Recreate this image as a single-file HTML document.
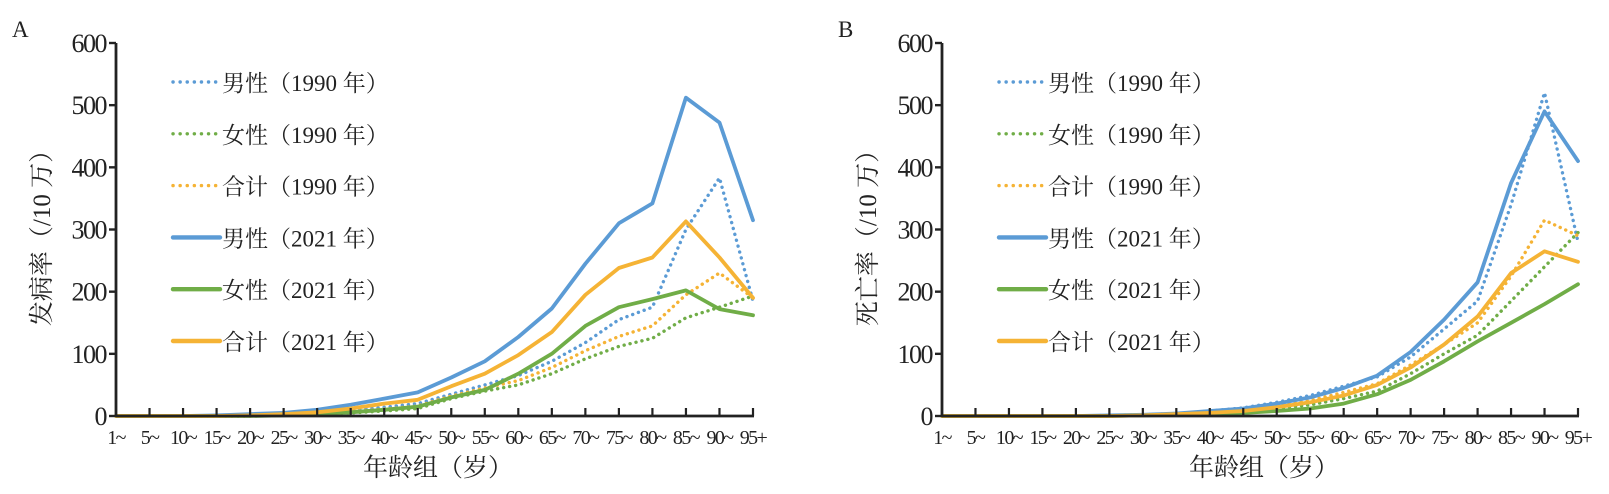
<!DOCTYPE html>
<html><head><meta charset="utf-8"><style>
body{margin:0;background:#fff}
svg text{font-family:"Liberation Serif","Noto Serif CJK SC","Noto Sans CJK SC",serif;fill:#222}
</style></head><body>
<svg id="c" width="1609" height="489" viewBox="0 0 1609 489" xmlns="http://www.w3.org/2000/svg"></svg>
<script>
const categories=["1~","5~","10~","15~","20~","25~","30~","35~","40~","45~","50~","55~","60~","65~","70~","75~","80~","85~","90~","95+"];
const yTicks=[0,100,200,300,400,500,600];
const seriesNames=["男性（1990 年）","女性（1990 年）","合计（1990 年）","男性（2021 年）","女性（2021 年）","合计（2021 年）"];
const incMale1990=[0,0,0,0,1,2,5,9,14,20,35,50,65,88,118,155,175,300,383,185];
const incFemale1990=[0,0,0,0,0,1,2,5,8,12,28,40,50,68,92,112,125,158,175,193];
const incTotal1990=[0,0,0,0,0,1,3,7,11,16,32,45,57,78,105,128,145,195,230,190];
const incMale2021=[0,0,0,1,3,5,10,18,28,38,62,88,127,173,245,310,342,512,472,315];
const incFemale2021=[0,0,0,0,0,1,3,6,10,15,30,42,68,100,145,175,188,202,172,162];
const incTotal2021=[0,0,0,0,1,3,6,12,20,26,48,68,98,135,195,238,255,313,255,190];
const morMale1990=[0,0,0,0,0,1,2,4,8,13,22,33,48,63,95,140,185,340,520,280];
const morFemale1990=[0,0,0,0,0,0,1,2,4,7,12,18,28,40,68,100,130,185,240,295];
const morTotal1990=[0,0,0,0,0,0,1,3,6,10,16,25,38,52,82,115,150,225,315,290];
const morMale2021=[0,0,0,0,0,1,2,4,8,12,20,30,45,65,103,155,215,375,490,410];
const morFemale2021=[0,0,0,0,0,0,1,2,3,5,8,12,20,35,58,88,120,150,180,212];
const morTotal2021=[0,0,0,0,0,0,1,3,5,8,14,22,33,50,78,115,160,230,265,248];

const NS="http://www.w3.org/2000/svg";
const svg=document.getElementById('c');
const colors=["#5b9bd5","#70ad47","#f5b335","#5b9bd5","#70ad47","#f5b335"];
function mk(tag,attrs,parent){const e=document.createElementNS(NS,tag);for(const k in attrs)e.setAttribute(k,attrs[k]);(parent||svg).appendChild(e);return e;}

function panel(letter,ox,x1,yTitle,data,key){
  const g=mk('g',{});
  
  
  const y0=416,y600=43;
  const xs=i=>ox+i*(x1-ox)/(categories.length-1);
  const ys=v=>y0-(v/600)*(y0-y600);
  const L=mk('text',{x:ox-104,y:37,'font-size':23},g);L.textContent=letter;
  
  
  data.forEach((arr,s)=>{
    const pts=arr.map((v,i)=>xs(i).toFixed(1)+','+ys(v).toFixed(1)).join(' ');
    const dotted=s<3;
    const p=mk('polyline',{points:pts,fill:'none',stroke:colors[s],'stroke-width':dotted?3.4:3.8,'stroke-linejoin':'round','stroke-linecap':'round','stroke-dasharray':dotted?'0.1 6':'none'},g);
    
    
  });
  const ya=mk('line',{x1:ox,y1:y600,x2:ox,y2:y0,stroke:'#222','stroke-width':2.8},g);
  
  
  const xa=mk('line',{x1:ox,y1:y0,x2:x1+1,y2:y0,stroke:'#222','stroke-width':2.8},g);
  
  
  yTicks.forEach(t=>{
    mk('line',{x1:ox-7,y1:ys(t),x2:ox,y2:ys(t),stroke:'#222','stroke-width':2.4},g);
    const tx=mk('text',{x:ox-10,y:ys(t)+9,'font-size':26,'text-anchor':'end','letter-spacing':'-1.5'},g);tx.textContent=t;
    
    
  });
  categories.forEach((c,i)=>{
    if(i>0)mk('line',{x1:xs(i),y1:y0-8,x2:xs(i),y2:y0,stroke:'#222','stroke-width':2.2},g);
    const tx=mk('text',{x:xs(i),y:444,'font-size':20,'text-anchor':'middle','letter-spacing':'-1.6'},g);tx.textContent=c;
    
    
  });
  const xt=mk('text',{x:ox+322,y:476,'font-size':25,'text-anchor':'middle'},g);xt.textContent='年龄组（岁）';
  
  
  const yt=mk('text',{x:0,y:0,'font-size':25,'text-anchor':'middle',transform:`translate(${ox-66},232) rotate(-90)`},g);yt.textContent=yTitle;
  
  
  seriesNames.forEach((n,s)=>{
    const y=82+s*51.8;
    const lg=mk('g',{},g);
    
    
    const dotted=s<3;
    mk('line',{x1:ox+57,y1:y,x2:ox+104,y2:y,stroke:colors[s],'stroke-width':dotted?3.4:4.4,'stroke-linecap':'round','stroke-dasharray':dotted?'0.1 7':'none'},lg);
    const t=mk('text',{x:ox+106,y:y+9,'font-size':23},lg);t.textContent=n;
  });
}
panel('A',116,753,'发病率（/10 万）',[incMale1990,incFemale1990,incTotal1990,incMale2021,incFemale2021,incTotal2021],'incidence');
panel('B',942,1578,'死亡率（/10 万）',[morMale1990,morFemale1990,morTotal1990,morMale2021,morFemale2021,morTotal2021],'mortality');
</script>
</body></html>
